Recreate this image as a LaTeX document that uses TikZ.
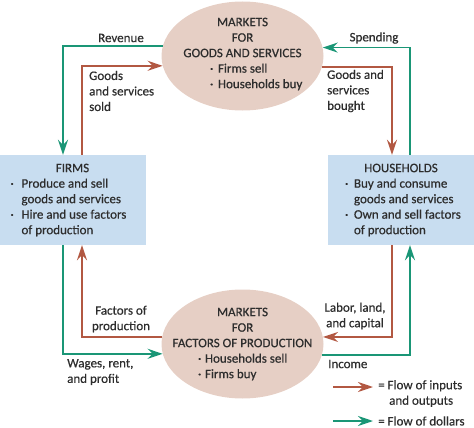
\documentclass[tikz,border=0pt]{standalone}
\usepackage{fontspec}
\setmainfont{Carlito}[FakeBold=0.5]
\usepackage{tikz}
\usetikzlibrary{shapes.geometric, arrows.meta}
\definecolor{mktfill}{RGB}{230,207,197}
\definecolor{agentfill}{RGB}{200,221,240}
\definecolor{goodsflow}{RGB}{178,88,66}
\definecolor{moneyflow}{RGB}{26,150,118}
\definecolor{inktext}{RGB}{45,45,45}
\newcommand{\lblfont}{\fontsize{13}{15.5}\selectfont}
\newcommand{\bul}[1][9pt]{\makebox[#1][l]{\textperiodcentered}}

\begin{document}
\begin{tikzpicture}[x=1pt, y=-1pt,
  market/.style={ellipse, fill=mktfill, minimum width=162pt,
                 minimum height=109pt, inner sep=0pt},
  mkttext/.style={font=\lblfont, text=inktext, align=center, inner sep=0pt},
  agent/.style={fill=agentfill, minimum width=146pt, minimum height=90pt,
                inner sep=0pt, font=\lblfont, text=inktext, align=center},
  flowlabel/.style={font=\lblfont, text=inktext, inner sep=0pt},
  goods/.style={draw=goodsflow, line width=1.8pt,
                -{Stealth[length=15pt, width=10pt, inset=5pt]}},
  dollars/.style={draw=moneyflow, line width=1.8pt,
                  -{Stealth[length=15pt, width=10pt, inset=5pt]}}
]
\useasboundingbox (0,0) rectangle (474,428);

% Markets
\node[market, label={[mkttext, yshift=2pt]center:{MARKETS\\FOR\\GOODS AND SERVICES\\
      \hspace*{17pt}\makebox[82pt][l]{\bul[8pt]Firms sell}\\
      \hspace*{17pt}\makebox[82pt][l]{\bul[8pt]Households buy}}}]
      (gsmkt) at (242.5,56) {};
\node[market, label={[mkttext]center:{MARKETS\\FOR\\FACTORS OF PRODUCTION\\
      \hspace*{5pt}\makebox[94pt][l]{\bul[7pt]Households sell}\\
      \hspace*{5pt}\makebox[94pt][l]{\bul[7pt]Firms buy}}}]
      (fpmkt) at (242.5,344) {};

% Firms and households
\node[agent] (firms) at (72.5,200) {FIRMS\\
      \makebox[124pt][l]{\bul[11pt]Produce and sell}\\
      \makebox[124pt][l]{\hspace*{11pt}goods and services}\\
      \makebox[124pt][l]{\bul[11pt]Hire and use factors}\\
      \makebox[124pt][l]{\hspace*{11pt}of production}};
\node[agent] (hh) at (401,200) {HOUSEHOLDS\\
      \makebox[112pt][l]{\bul[9pt]Buy and consume}\\
      \makebox[112pt][l]{\hspace*{9pt}goods and services}\\
      \makebox[112pt][l]{\bul[9pt]Own and sell factors}\\
      \makebox[112pt][l]{\hspace*{9pt}of production}};

% Lanes for the flows
\coordinate (laneA) at (63,0);
\coordinate (laneB) at (82,0);
\coordinate (laneC) at (392,0);
\coordinate (laneD) at (410,0);

% Flows round the goods market
\draw[dollars] (gsmkt.173.6) -| (firms.north -| laneA);
\draw[goods] (firms.north -| laneB) |- (gsmkt.187.2);
\draw[goods] (gsmkt.352.8) -| (hh.north -| laneC);
\draw[dollars] (hh.north -| laneD) |- (gsmkt.6.4);

% Flows round the factor market
\draw[goods] (hh.south -| laneC) |- (fpmkt.5);
\draw[goods] (fpmkt.175) -| (firms.south -| laneB);
\draw[dollars] (firms.south -| laneA) |- (fpmkt.187.2);
\draw[dollars] (fpmkt.352.8) -| (hh.south -| laneD);

% Flow labels
\node[flowlabel] (revenue) at (121,38) {Revenue};
\node[flowlabel] (spending) at (374,38) {Spending};
\node[flowlabel, anchor=west, align=left] (gsold) at (89,91) {Goods\\and services\\sold};
\node[flowlabel, anchor=west, align=left] (gbought) at (327,91) {Goods and\\services\\bought};
\node[flowlabel, align=center] (factors) at (121,319) {Factors of\\production};
\node[flowlabel, align=center] (labor) at (355,316) {Labor, land,\\and capital};
\node[flowlabel, anchor=west, align=left] (wages) at (67,372) {Wages, rent,\\and profit};
\node[flowlabel, anchor=west] (income) at (328,364) {Income};

% Key
\node[flowlabel, anchor=north west, align=left] (keygoods) at (378,380)
      {= Flow of inputs\\\hspace*{11pt}and outputs};
\node[flowlabel, anchor=west] (keydollars) at (378,421) {= Flow of dollars};
\coordinate (keyA) at (333,387);
\coordinate (keyB) at (333,421);
\draw[goods] (keyA) -- ([xshift=-5pt]keyA -| keygoods.west);
\draw[dollars] (keyB) -- ([xshift=-5pt]keydollars.west);

\end{tikzpicture}
\end{document}
